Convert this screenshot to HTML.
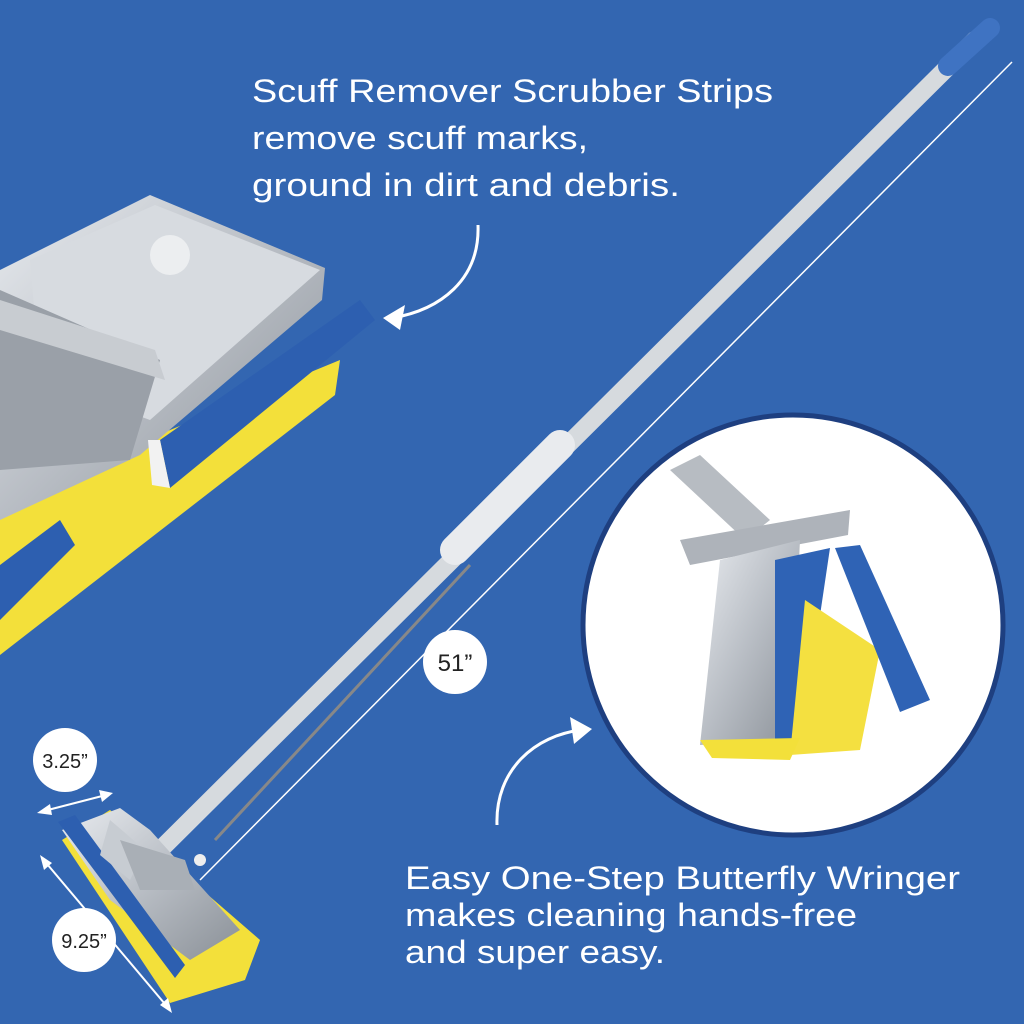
<!DOCTYPE html>
<html><head><meta charset="utf-8"><style>
html,body{margin:0;padding:0;width:1024px;height:1024px;overflow:hidden;background:#3366b1;}
svg{display:block}
text{font-family:"Liberation Sans",sans-serif;fill:#fff;}
</style></head><body>
<svg width="1024" height="1024" viewBox="0 0 1024 1024" xmlns="http://www.w3.org/2000/svg">
<defs>
<linearGradient id="metal" x1="0" y1="0" x2="1" y2="1">
<stop offset="0" stop-color="#e8ebef"/><stop offset="0.5" stop-color="#b8bdc4"/><stop offset="1" stop-color="#8a9097"/>
</linearGradient>
</defs>
<rect width="1024" height="1024" fill="#3366b1"/>

<!-- top-left closeup -->
<polygon points="0,500 340,360 335,395 0,655" fill="#f3e03a"/>
<polygon points="0,270 150,195 325,268 322,300 140,455 0,520" fill="url(#metal)"/>
<polygon points="30,260 155,205 320,270 150,420 40,380" fill="#d7dbe0"/>
<polygon points="0,290 160,360 130,460 0,470" fill="#9aa0a8"/>
<polygon points="0,300 155,350 165,380 0,330" fill="#c8ccd1"/>
<circle cx="170" cy="255" r="20" fill="#eceef0"/>
<polygon points="160,440 360,300 375,320 170,488" fill="#2d5fb0"/>
<polygon points="148,440 160,440 170,488 152,485" fill="#f2f2f2"/>
<polygon points="0,565 60,520 75,545 0,620" fill="#2d5fb0"/>

<!-- dimension line -->
<line x1="1012" y1="62" x2="200" y2="880" stroke="#fff" stroke-width="1.5"/>
<!-- wire -->
<line x1="470" y1="565" x2="215" y2="840" stroke="#888" stroke-width="3"/>
<!-- handle -->
<line x1="975" y1="40" x2="160" y2="850" stroke="#d6dade" stroke-width="18" stroke-linecap="round"/>
<line x1="948" y1="66" x2="990" y2="28" stroke="#3f73c2" stroke-width="20" stroke-linecap="round"/>
<line x1="560" y1="445" x2="455" y2="550" stroke="#e9ebee" stroke-width="30" stroke-linecap="round"/>

<!-- small mop -->
<polygon points="62,840 110,810 260,940 245,980 170,1003" fill="#f3e03a"/>
<polygon points="62,830 120,808 150,830 240,930 190,960 110,900" fill="url(#metal)"/>
<polygon points="58,822 75,815 185,965 175,978" fill="#2d5fb0"/>
<polygon points="110,820 145,850 130,880 100,855" fill="#c7ccd2"/>
<polygon points="120,840 185,860 195,890 140,890" fill="#a9afb6"/>
<circle cx="200" cy="860" r="6" fill="#eee"/>

<!-- dimension arrows small -->
<line x1="40" y1="812" x2="110" y2="794" stroke="#fff" stroke-width="2"/>
<polygon points="37,813 50,804 52,815" fill="#fff"/>
<polygon points="113,793 99,790 102,802" fill="#fff"/>
<line x1="42" y1="858" x2="170" y2="1010" stroke="#fff" stroke-width="2"/>
<polygon points="40,855 44,870 52,863" fill="#fff"/>
<polygon points="172,1013 160,1005 168,998" fill="#fff"/>
<circle cx="65" cy="760" r="32" fill="#fff"/>
<text x="65" y="768" font-size="20" text-anchor="middle" style="fill:#222">3.25”</text>
<circle cx="84" cy="940" r="32" fill="#fff"/>
<text x="84" y="948" font-size="20" text-anchor="middle" style="fill:#222">9.25”</text>
<circle cx="455" cy="662" r="32" fill="#fff"/>
<text x="455" y="671" font-size="24" text-anchor="middle" style="fill:#222">51”</text>

<!-- wringer circle -->
<circle cx="793" cy="625" r="210" fill="#fff" stroke="#1e3f80" stroke-width="5"/>
<polygon points="670,470 700,455 770,520 745,540" fill="#b7bcc2"/>
<polygon points="680,540 850,510 848,535 690,565" fill="#aeb3ba"/>
<polygon points="720,560 800,540 790,740 700,745" fill="url(#metal)"/>
<polygon points="775,560 830,548 800,750 775,745" fill="#2f63b5"/>
<polygon points="805,600 880,650 860,750 790,755" fill="#f4e040"/>
<polygon points="835,548 860,545 930,700 900,712" fill="#2f63b5"/>
<polygon points="700,740 800,738 790,760 712,758" fill="#f3e03a"/>

<!-- arrows -->
<path d="M478,225 C480,280 440,310 392,318" fill="none" stroke="#fff" stroke-width="3"/>
<polygon points="383,318 405,305 400,330" fill="#fff"/>
<path d="M497,825 C495,770 535,735 582,730" fill="none" stroke="#fff" stroke-width="3"/>
<polygon points="592,729 570,717 574,744" fill="#fff"/>

<!-- text -->
<text x="252" y="102" font-size="32" textLength="521" lengthAdjust="spacingAndGlyphs">Scuff Remover Scrubber Strips</text>
<text x="252" y="149" font-size="32" textLength="336" lengthAdjust="spacingAndGlyphs">remove scuff marks,</text>
<text x="252" y="196" font-size="32" textLength="428" lengthAdjust="spacingAndGlyphs">ground in dirt and debris.</text>
<text x="405" y="889" font-size="32" textLength="555" lengthAdjust="spacingAndGlyphs">Easy One-Step Butterfly Wringer</text>
<text x="405" y="926" font-size="32" textLength="452" lengthAdjust="spacingAndGlyphs">makes cleaning hands-free</text>
<text x="405" y="963" font-size="32" textLength="260" lengthAdjust="spacingAndGlyphs">and super easy.</text>
</svg>
</body></html>
